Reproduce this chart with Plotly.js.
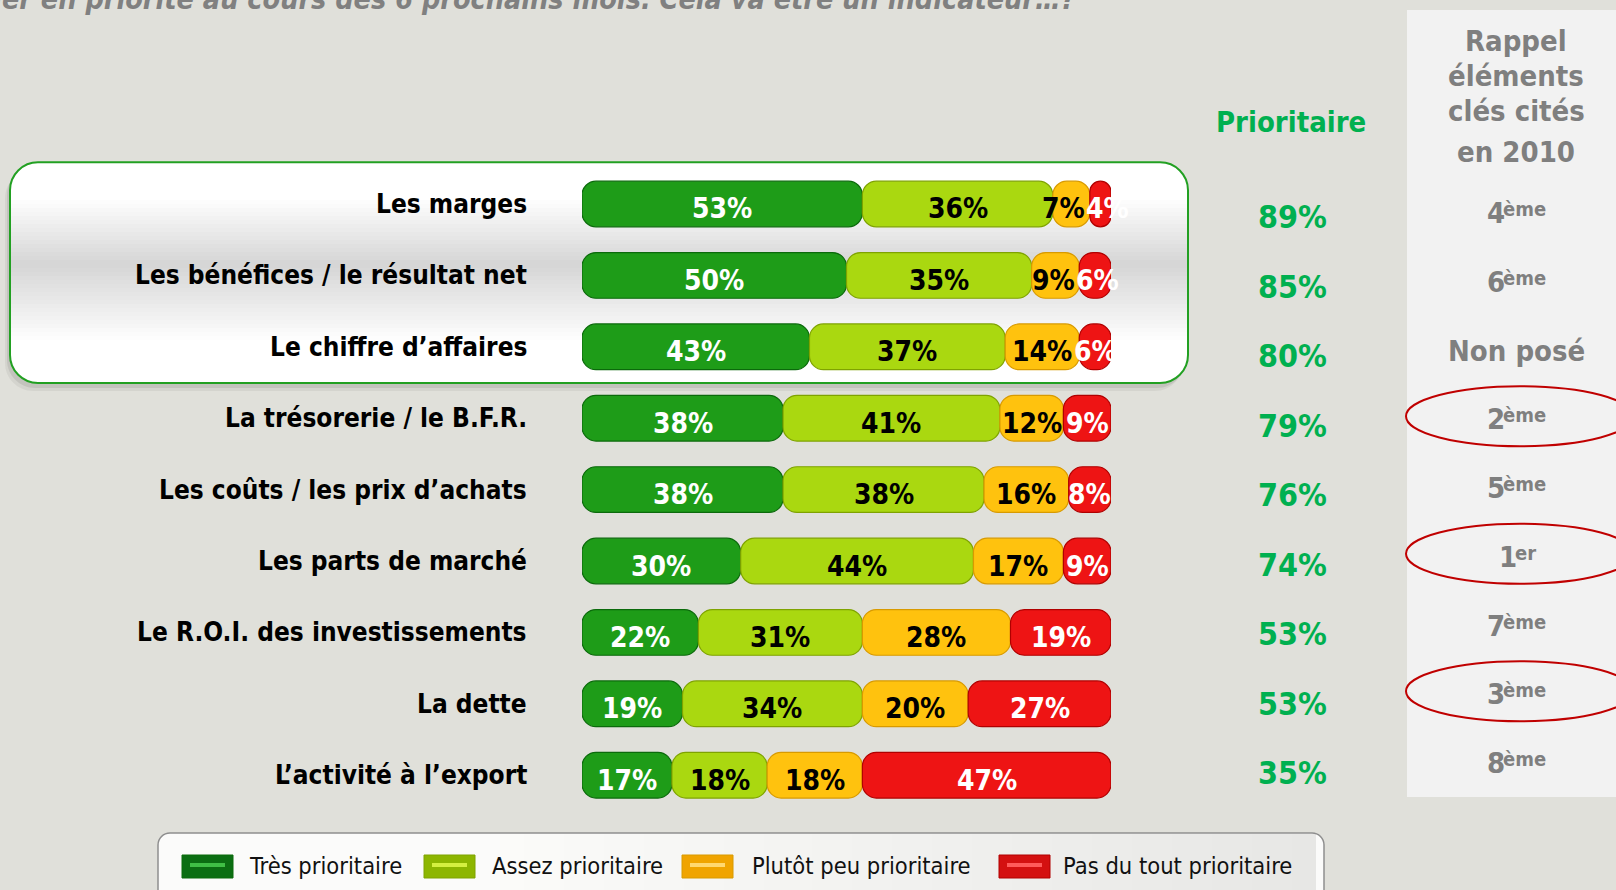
<!DOCTYPE html>
<html>
<head>
<meta charset="utf-8">
<script src="https://cdn.plot.ly/plotly-3.0.1.min.js"></script>
<style>
  html, body { margin: 0; padding: 0; background: #E0E0DA; }
  #chart { width: 1616px; height: 890px; }
</style>
</head>
<body>
<div id="chart"></div>
<script>
// ---------------- DATA ----------------
const categories = [
  "Les marges",
  "Les bénéfices / le résultat net",
  "Le chiffre d’affaires",
  "La trésorerie / le B.F.R.",
  "Les coûts / les prix d’achats",
  "Les parts de marché",
  "Le R.O.I. des investissements",
  "La dette",
  "L’activité à l’export"
];
const tresPrioritaire   = [53, 50, 43, 38, 38, 30, 22, 19, 17];
const assezPrioritaire  = [36, 35, 37, 41, 38, 44, 31, 34, 18];
const plutotPeu         = [7, 9, 14, 12, 16, 17, 28, 20, 18];
const pasDuTout         = [4, 6, 6, 9, 8, 9, 19, 27, 47];
const prioritaire       = [89, 85, 80, 79, 76, 74, 53, 53, 35];
const rang2010          = ["4ème", "6ème", "Non posé", "2ème", "5ème", "1er", "7ème", "3ème", "8ème"];
const highlightedRanks  = ["1er", "2ème", "3ème"];
const highlightedRows   = [0, 1, 2];
const seriesNames = ["Très prioritaire", "Assez prioritaire", "Plutôt peu prioritaire", "Pas du tout prioritaire"];
const headerPrioritaire = "Prioritaire";
const headerRappel = ["Rappel", "éléments", "clés cités", "en 2010"];
const questionText = "Quels sont les éléments que vous allez surveiller en priorité au cours des 6 prochains mois. Cela va être un indicateur…?";

// ---------------- STYLE ----------------
const W = 1616, H = 890;
const FONT = "DejaVu Sans Condensed, DejaVu Sans, sans-serif";
const CANVAS_FONT = "'DejaVu Sans Condensed', 'DejaVu Sans', sans-serif";
const barColors  = ["#1E9C18", "#AAD810", "#FFC20E", "#EE1414"];
const lineColors = ["#0B6A0B", "#7FA300", "#D89A00", "#B00000"];
const textColors = ["#FFFFFF", "#000000", "#000000", "#FFFFFF"];
const swatchColors = ["#0B6E12", "#8DB600", "#F0A400", "#D41010"];
const swatchStripe = ["#3FBF45", "#D4F040", "#FFD870", "#FF5A5A"];
const legendSwatchX = [182, 424, 682, 999];
const legendTextX   = [247, 490, 750, 1061];
const legendW = 51;
const BAR_X0 = 582, BAR_X1 = 1111;
const BAR_LABEL_SIZE = 28;

const px = x => x / W;
const py = y => 1 - y / H;

const cv = document.createElement("canvas").getContext("2d");
function textWidth(t, size, bold) {
  cv.font = (bold ? "bold " : "") + size + "px " + CANVAS_FONT;
  return cv.measureText(t).width;
}

function rrPath(x0, y0, x1, y1, r) {
  const k = 0.5523 * r;
  const X = px, Y = py;
  return `M ${X(x0 + r)},${Y(y0)} L ${X(x1 - r)},${Y(y0)} ` +
    `C ${X(x1 - r + k)},${Y(y0)} ${X(x1)},${Y(y0 + r - k)} ${X(x1)},${Y(y0 + r)} ` +
    `L ${X(x1)},${Y(y1 - r)} ` +
    `C ${X(x1)},${Y(y1 - r + k)} ${X(x1 - r + k)},${Y(y1)} ${X(x1 - r)},${Y(y1)} ` +
    `L ${X(x0 + r)},${Y(y1)} ` +
    `C ${X(x0 + r - k)},${Y(y1)} ${X(x0)},${Y(y1 - r + k)} ${X(x0)},${Y(y1 - r)} ` +
    `L ${X(x0)},${Y(y0 + r)} ` +
    `C ${X(x0)},${Y(y0 + r - k)} ${X(x0 + r - k)},${Y(y0)} ${X(x0 + r)},${Y(y0)} Z`;
}

// ---------------- TRACES ----------------
const series = [tresPrioritaire, assezPrioritaire, plutotPeu, pasDuTout];
const bases = series.map((s, si) => s.map((_, i) => {
  let b = 0; for (let k = 0; k < si; k++) b += series[k][i]; return b;
}));

const traces = series.map((s, si) => ({
  type: "bar",
  orientation: "h",
  name: seriesNames[si],
  y: categories,
  x: s,
  base: bases[si],
  width: 0.64,
  marker: { color: barColors[si], line: { color: lineColors[si], width: 1.2 } },
  hoverinfo: "skip",
  cliponaxis: false
}));

// ---------------- ROW GEOMETRY ----------------
const barRowTop = 168.3, barRowStep = 71.4;
const prioTop = 217, prioStep = 69.5;
const rankTop = 213, rankStep = 68.75;

// ---------------- SHAPES ----------------
const shapes = [];
shapes.push({ type: "rect", xref: "paper", yref: "paper", x0: px(1407), x1: 1, y0: py(797), y1: py(10),
  fillcolor: "#F2F2F2", line: { width: 0 }, layer: "below" });

const hbTop = barRowTop - 6, hbBottom = barRowTop + highlightedRows.length * barRowStep + 0.5;
shapes.push({ type: "path", xref: "paper", yref: "paper", path: rrPath(5, hbTop + 8, 1183, hbBottom + 8, 28),
  fillcolor: "rgba(0,0,0,0.05)", line: { width: 0 }, layer: "below" });
shapes.push({ type: "path", xref: "paper", yref: "paper", path: rrPath(7, hbTop + 5, 1185, hbBottom + 5, 28),
  fillcolor: "rgba(0,0,0,0.08)", line: { width: 0 }, layer: "below" });
shapes.push({ type: "path", xref: "paper", yref: "paper", path: rrPath(10, hbTop, 1188, hbBottom, 28),
  fillcolor: "#FFFFFF", line: { width: 0 }, layer: "below" });
for (let y = 196; y < 340; y += 4) {
  const peak = 262;
  let t = y < peak ? (y - 196) / (peak - 196) : 1 - (y - peak) / (340 - peak);
  t = Math.max(0, Math.min(1, t));
  const v = Math.round(255 - t * 42);
  shapes.push({ type: "rect", xref: "paper", yref: "paper", x0: px(11), x1: px(1187), y0: py(y + 4), y1: py(y),
    fillcolor: `rgb(${v},${v},${v})`, line: { width: 0 }, layer: "below" });
}
shapes.push({ type: "path", xref: "paper", yref: "paper", path: rrPath(10, hbTop, 1188, hbBottom, 28),
  fillcolor: "rgba(0,0,0,0)", line: { color: "#22A022", width: 2 }, layer: "below" });

shapes.push({ type: "path", xref: "paper", yref: "paper", path: rrPath(158, 833, 1324, 905, 12),
  fillcolor: "#FBFBFA", line: { width: 0 }, layer: "below" });
for (let x = 500; x < 1312; x += 8) {
  const t = (x - 500) / (1312 - 500);
  const v = Math.round(251 - t * 20);
  shapes.push({ type: "rect", xref: "paper", yref: "paper", x0: px(x), x1: px(x + 8), y0: py(890), y1: py(834),
    fillcolor: `rgb(${v},${v},${v - 2})`, line: { width: 0 }, layer: "below" });
}
shapes.push({ type: "path", xref: "paper", yref: "paper", path: rrPath(158, 833, 1324, 905, 12),
  fillcolor: "rgba(0,0,0,0)", line: { color: "#8E8E8E", width: 1.5 }, layer: "below" });
seriesNames.forEach((n, i) => {
  shapes.push({ type: "rect", xref: "paper", yref: "paper", x0: px(legendSwatchX[i]), x1: px(legendSwatchX[i] + legendW),
    y0: py(878), y1: py(855), fillcolor: swatchColors[i], line: { color: lineColors[i], width: 1 }, layer: "below" });
  shapes.push({ type: "rect", xref: "paper", yref: "paper", x0: px(legendSwatchX[i] + 8), x1: px(legendSwatchX[i] + legendW - 8),
    y0: py(867), y1: py(863), fillcolor: swatchStripe[i], line: { width: 0 }, layer: "below" });
});

rang2010.forEach((r, i) => {
  if (highlightedRanks.includes(r)) {
    const cy = rankTop + i * rankStep - 3;
    shapes.push({ type: "circle", xref: "paper", yref: "paper", x0: px(1406), x1: px(1634),
      y0: py(cy + 30), y1: py(cy - 30), line: { color: "#C00000", width: 2 }, fillcolor: "rgba(0,0,0,0)" });
  }
});

// ---------------- ANNOTATIONS ----------------
const annotations = [];
annotations.push({ xref: "paper", yref: "paper", x: px(1077), y: py(17), xanchor: "right", yanchor: "bottom",
  text: questionText, showarrow: false, borderpad: 0,
  font: { family: FONT, size: 28.5, color: "#808080", weight: "bold", style: "italic" } });

categories.forEach((c, i) => {
  annotations.push({ xref: "paper", yref: "y", x: px(529), y: c, xanchor: "right", yanchor: "middle",
    text: c, showarrow: false, font: { family: FONT, size: 26, color: "#000000", weight: "bold" } });
});

const pxPerUnit = (BAR_X1 - BAR_X0) / 100;
categories.forEach((c, i) => {
  const labs = series.map((s, si) => {
    const t = s[i] + "%";
    return { si, t, c: (bases[si][i] + s[i] / 2) * pxPerUnit, w: textWidth(t, BAR_LABEL_SIZE, true) };
  });
  for (let it = 0; it < 6; it++) {
    for (let k = 0; k < labs.length - 1; k++) {
      const a = labs[k], b = labs[k + 1];
      const ov = (a.c + a.w / 2 + 1) - (b.c - b.w / 2);
      if (ov > 0) { a.c -= ov / 2; b.c += ov / 2; }
    }
  }
  labs.forEach(l => {
    annotations.push({ xref: "x", yref: "y", x: l.c / pxPerUnit, y: c, yshift: -5,
      xanchor: "center", yanchor: "middle", text: l.t, showarrow: false,
      font: { family: FONT, size: BAR_LABEL_SIZE, color: textColors[l.si], weight: "bold" } });
  });
});

annotations.push({ xref: "paper", yref: "paper", x: px(1291), y: py(122), xanchor: "center", yanchor: "middle",
  text: headerPrioritaire, showarrow: false, font: { family: FONT, size: 29, color: "#00B050", weight: "bold" } });
prioritaire.forEach((v, i) => {
  annotations.push({ xref: "paper", yref: "paper", x: px(1292), y: py(prioTop + i * prioStep), xanchor: "center", yanchor: "middle",
    text: v + "%", showarrow: false, font: { family: FONT, size: 32, color: "#00B050", weight: "bold" } });
});

const headerY = [41, 76, 111, 152];
headerRappel.forEach((t, i) => {
  annotations.push({ xref: "paper", yref: "paper", x: px(1516), y: py(headerY[i]), xanchor: "center", yanchor: "middle",
    text: t, showarrow: false, font: { family: FONT, size: 29, color: "#7F7F7F", weight: "bold" } });
});
const RANK_SIZE = 29, SUFFIX_SIZE = 20, RANK_CX = 1517;
rang2010.forEach((r, i) => {
  const cy = rankTop + i * rankStep;
  const m = r.match(/^(\d+)(.*)$/);
  if (!m) {
    annotations.push({ xref: "paper", yref: "paper", x: px(RANK_CX - 1), y: py(cy), xanchor: "center", yanchor: "middle",
      text: r, showarrow: false, font: { family: FONT, size: RANK_SIZE, color: "#7F7F7F", weight: "bold" } });
    return;
  }
  const dw = textWidth(m[1], RANK_SIZE, true), sw = textWidth(m[2], SUFFIX_SIZE, true);
  const joint = RANK_CX - (dw + sw) / 2 + dw;
  annotations.push({ xref: "paper", yref: "paper", x: px(joint + 1), y: py(cy), xanchor: "right", yanchor: "middle",
    borderpad: 0, borderwidth: 0,
    text: m[1], showarrow: false, font: { family: FONT, size: RANK_SIZE, color: "#7F7F7F", weight: "bold" } });
  annotations.push({ xref: "paper", yref: "paper", x: px(joint - 1), y: py(cy - 4), xanchor: "left", yanchor: "middle",
    borderpad: 0, borderwidth: 0,
    text: m[2], showarrow: false, font: { family: FONT, size: SUFFIX_SIZE, color: "#7F7F7F", weight: "bold" } });
});

seriesNames.forEach((n, i) => {
  annotations.push({ xref: "paper", yref: "paper", x: px(legendTextX[i]), y: py(866), xanchor: "left", yanchor: "middle",
    text: n, showarrow: false, font: { family: FONT, size: 23.5, color: "#111111" } });
});

// ---------------- LAYOUT ----------------
const layout = {
  width: W, height: H,
  margin: { l: 0, r: 0, t: 0, b: 0, pad: 0 },
  paper_bgcolor: "#E0E0DA",
  plot_bgcolor: "rgba(0,0,0,0)",
  barmode: "overlay",
  barcornerradius: 14,
  showlegend: false,
  hovermode: false,
  xaxis: { domain: [px(BAR_X0), px(BAR_X1)], range: [0, 100], visible: false, fixedrange: true },
  yaxis: { domain: [py(barRowTop + categories.length * barRowStep), py(barRowTop)], type: "category",
    categoryorder: "array", categoryarray: categories, range: [categories.length - 0.5, -0.5],
    visible: false, fixedrange: true },
  shapes: shapes,
  annotations: annotations
};

Plotly.newPlot("chart", traces, layout, { staticPlot: true, displayModeBar: false });
</script>
</body>
</html>
